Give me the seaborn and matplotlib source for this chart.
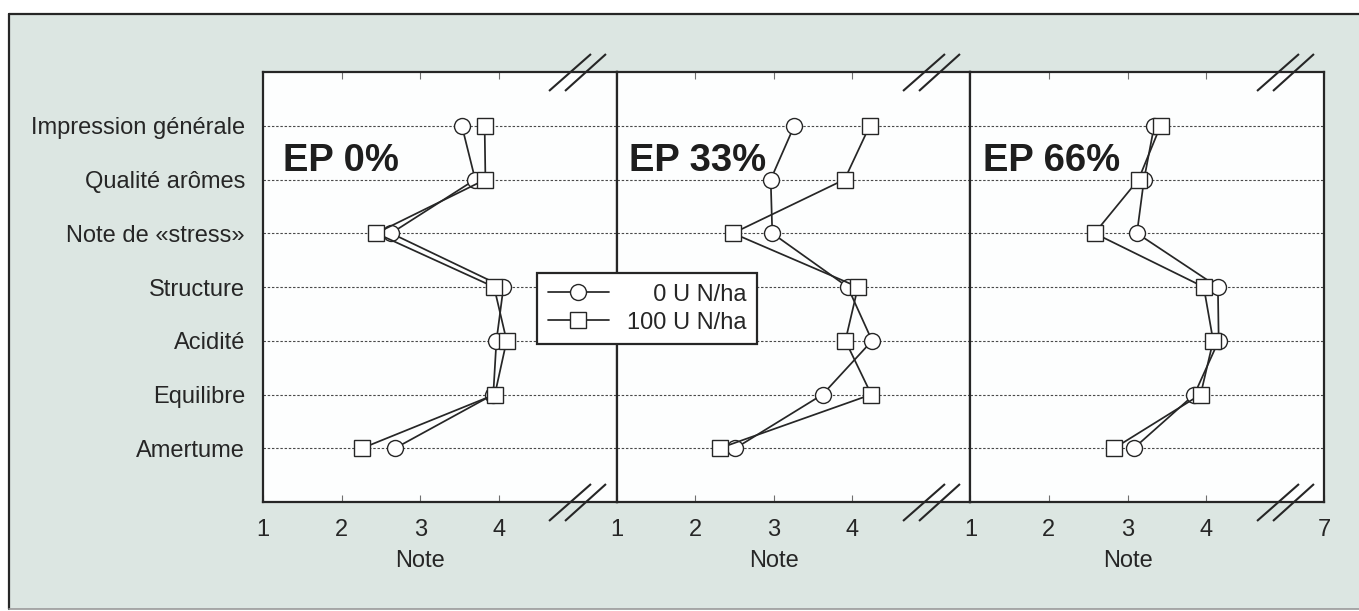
"""Note sensorielle par attribut : EP 0%, 33%, 66% x fumure azotée"""
import matplotlib

matplotlib.use("Agg")
import pandas as pd
import seaborn as sns
from matplotlib import pyplot as plt
from matplotlib.lines import Line2D
from matplotlib.patches import Rectangle
from matplotlib.path import Path

attributes = [
    "Impression générale",
    "Qualité arômes",
    "Note de «stress»",
    "Structure",
    "Acidité",
    "Equilibre",
    "Amertume",
]
doses = ["\u2007\u20070 U N/ha", "100 U N/ha"]
panels = ["EP 0%", "EP 33%", "EP 66%"]

ep0_n0 = [3.53, 3.70, 2.63, 4.06, 3.97, 3.93, 2.68]
ep0_n100 = [3.82, 3.83, 2.44, 3.94, 4.10, 3.95, 2.26]
ep33_n0 = [3.26, 2.96, 2.98, 3.94, 4.25, 3.62, 2.51]
ep33_n100 = [4.22, 3.90, 2.48, 4.07, 3.91, 4.24, 2.31]
ep66_n0 = [3.34, 3.21, 3.12, 4.15, 4.16, 3.85, 3.08]
ep66_n100 = [3.42, 3.14, 2.58, 3.97, 4.09, 3.93, 2.83]

x_ticks = [1, 2, 3, 4]
x_labels = ["1", "2", "3", "4"]
x_ticks_last = [1, 2, 3, 4, 5.5]
x_labels_last = ["1", "2", "3", "4", "7"]

INK = "#262626"
BG = "#dce6e2"
FS = 17

# "//" break mark, drawn as a marker so it keeps its size in points
BREAK = Path(
    [(-28.5, -18.5), (13.5, 18.5), (-12.5, -18.5), (28.5, 18.5)],
    [Path.MOVETO, Path.LINETO, Path.MOVETO, Path.LINETO],
)


def panel_frame(n0, n100):
    rows = []
    for dose, notes in zip(doses, (n0, n100)):
        for pos, (attr, note) in enumerate(zip(attributes, notes)):
            rows.append({"Attribut": attr, "Position": pos, "Dose": dose, "Note": note})
    return pd.DataFrame(rows)


sns.set_style("white")
plt.rcParams["font.family"] = ["Liberation Sans", "DejaVu Sans"]
plt.rcParams["text.color"] = INK
plt.rcParams["xtick.color"] = INK
plt.rcParams["ytick.color"] = INK

fig, axes = plt.subplots(1, 3, figsize=(13.59, 6.11), dpi=100, sharey=True)
fig.subplots_adjust(left=263 / 1359, right=1324 / 1359, bottom=1 - 502 / 611,
                    top=1 - 72 / 611, wspace=0)
fig.patch.set_facecolor("white")
fig.add_artist(Rectangle((9 / 1359, 2 / 611), 1, 1 - 16 / 611, transform=fig.transFigure,
                         facecolor=BG, edgecolor="none", zorder=-1))
fig.add_artist(Line2D([9 / 1359, 1], [1 - 14 / 611] * 2, transform=fig.transFigure,
                      color=INK, lw=1.6))
fig.add_artist(Line2D([9 / 1359] * 2, [2 / 611, 1 - 14 / 611], transform=fig.transFigure,
                      color=INK, lw=1.6))
fig.add_artist(Line2D([9 / 1359, 1], [2 / 611] * 2, transform=fig.transFigure,
                      color="#9a9a9a", lw=1.2))

series = [(ep0_n0, ep0_n100), (ep33_n0, ep33_n100), (ep66_n0, ep66_n100)]
label_x = [0.056, 0.036, 0.037]

for i, (ax, name, (n0, n100)) in enumerate(zip(axes, panels, series)):
    df = panel_frame(n0, n100)
    sns.lineplot(
        data=df,
        x="Note",
        y="Position",
        hue="Dose",
        style="Dose",
        hue_order=doses,
        style_order=doses,
        palette={d: INK for d in doses},
        markers={doses[0]: "o", doses[1]: "s"},
        dashes=False,
        sort=False,
        estimator=None,
        linewidth=1.25,
        markersize=11.5,
        markerfacecolor="white",
        markeredgecolor=INK,
        markeredgewidth=1.0,
        legend=False,
        ax=ax,
    )
    ax.set_facecolor("#fdfefe")
    ax.set_xlim(1, 5.5)
    ax.set_ylim(7, -1)
    ax.set_yticks(range(len(attributes)), labels=attributes)
    ax.grid(axis="y", color="#4a4a4a", linestyle=(0, (2.2, 1.6)), linewidth=0.8)
    ax.grid(axis="x", visible=False)
    ax.set_axisbelow(True)
    for spine in ax.spines.values():
        spine.set_color(INK)
        spine.set_linewidth(1.6)
    if i == 2:
        ax.set_xticks(x_ticks_last, labels=x_labels_last)
    else:
        ax.set_xticks(x_ticks, labels=x_labels)
    ax.tick_params(axis="x", direction="in", length=5, width=0.8, color="#707070",
                   top=True, bottom=True, pad=12, labelsize=FS)
    ax.tick_params(axis="y", length=0, pad=13, labelsize=FS, labelleft=(i == 0))
    ax.set_ylabel("")
    ax.set_xlabel("Note", fontsize=FS)
    ax.xaxis.set_label_coords((3 - 1) / 4.5, -0.112)
    ax.text(label_x[i], 0.770, name, transform=ax.transAxes, fontsize=27.5,
            fontweight="bold", va="baseline", ha="left", color="#1e1e1e")
    ax.plot([5, 5], [-1, 7], linestyle="none", marker=BREAK, markersize=41,
            markeredgecolor=INK, markerfacecolor="none", markeredgewidth=1.5,
            clip_on=False, zorder=6)

handles = axes[0].lines[:2]
leg = fig.legend(
    handles,
    doses,
    loc="upper left",
    bbox_to_anchor=(537 / 1359, 1 - 273 / 611),
    borderaxespad=0,
    fontsize=FS,
    handlelength=2.6,
    handletextpad=0.75,
    labelspacing=0.25,
    borderpad=0.45,
    fancybox=False,
    framealpha=1,
    facecolor="white",
    edgecolor=INK,
)
leg.get_frame().set_linewidth(1.6)

fig.savefig("out.png", dpi=100)
